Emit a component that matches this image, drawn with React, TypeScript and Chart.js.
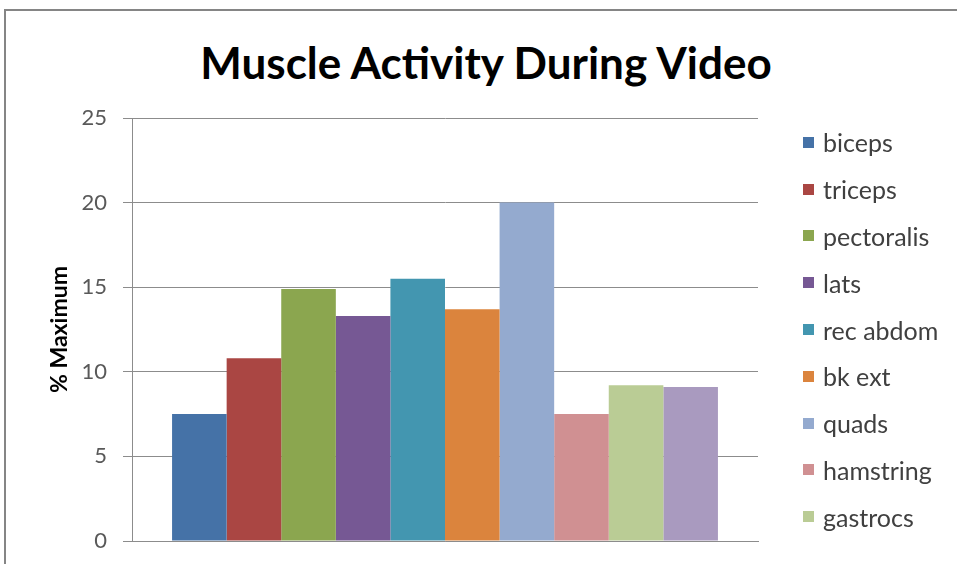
import React, { useEffect, useRef } from "react";
import { Chart, registerables } from "chart.js";

Chart.register(...registerables);

const chartTitle = "Muscle Activity During Video";
const yAxisTitle = "% Maximum";
const categories = [""];
const seriesNames = [
  "biceps",
  "triceps",
  "pectoralis",
  "lats",
  "rec abdom",
  "bk ext",
  "quads",
  "hamstring",
  "gastrocs",
  "soleus",
];
const seriesValues = [7.5, 10.8, 14.9, 13.3, 15.5, 13.7, 20.0, 7.5, 9.2, 9.1];
const seriesColors = [
  "#4572A7",
  "#AA4643",
  "#8BA64F",
  "#765894",
  "#4396B0",
  "#DB843D",
  "#94AACF",
  "#D09092",
  "#BACC95",
  "#A99ABF",
];
const yMin = 0;
const yMax = 25;
const yStep = 5;
const legendVisibleCount = 9;

export default function App() {
  const canvasRef = useRef<HTMLCanvasElement | null>(null);

  useEffect(() => {
    if (!canvasRef.current) return;
    const chart = new Chart(canvasRef.current, {
      type: "bar",
      data: {
        labels: categories,
        datasets: seriesNames.map((name, i) => ({
          label: name,
          data: [seriesValues[i]],
          backgroundColor: seriesColors[i],
          borderWidth: 0,
          categoryPercentage: 0.872,
          barPercentage: 1,
        })),
      },
      options: {
        animation: false,
        responsive: false,
        layout: { padding: { left: 8, right: 199, top: 118, bottom: 23 } },
        plugins: {
          legend: { display: false },
          tooltip: { enabled: false },
          title: { display: false },
        },
        scales: {
          x: {
            grid: { display: false, drawTicks: false },
            ticks: { display: false, padding: 0 },
            border: { display: true, color: "#8c8c8c", width: 1 },
            afterFit: (s: any) => {
              s.height = 0;
            },
          },
          y: {
            min: yMin,
            max: yMax,
            ticks: {
              stepSize: yStep,
              padding: 16,
              color: "#595959",
              font: { family: "Lato", size: 22 },
            },
            grid: { color: "#8c8c8c", tickLength: 9, lineWidth: 1 },
            border: { display: true, color: "#8c8c8c", width: 1 },
            title: {
              display: true,
              text: yAxisTitle,
              color: "#000000",
              font: { family: "Lato", size: 23, weight: "bold", lineHeight: 1.2 },
              padding: { top: 38, bottom: 0 },
            },
            afterFit: (s: any) => {
              s.width = 124;
              s.paddingTop = 0;
              s.paddingBottom = 0;
            },
          },
        },
      },
    });
    return () => chart.destroy();
  }, []);

  return (
    <div
      style={{
        position: "fixed",
        left: 0,
        top: 0,
        width: 957,
        height: 564,
        background: "#ffffff",
        overflow: "hidden",
      }}
    >
      <div
        style={{
          position: "absolute",
          left: 4,
          top: 9,
          width: 1000,
          height: 600,
          borderLeft: "2px solid #858585",
          borderTop: "2px solid #858585",
        }}
      />
      <div
        style={{
          position: "absolute",
          left: 0,
          width: 972,
          top: 34,
          textAlign: "center",
          fontFamily: "Lato",
          fontWeight: "bold",
          fontSize: 44,
          lineHeight: "56px",
          color: "#000000",
          whiteSpace: "nowrap",
        }}
      >
        {chartTitle}
      </div>
      <canvas
        ref={canvasRef}
        width={957}
        height={564}
        style={{ position: "absolute", left: 0, top: 0, width: 957, height: 564, display: "block" }}
      />
      <div
        style={{
          position: "absolute",
          left: 803,
          top: 119,
          display: "flex",
          flexDirection: "column",
          fontFamily: "Lato",
          fontSize: 25,
          color: "#404040",
        }}
      >
        {seriesNames.slice(0, legendVisibleCount).map((name, i) => (
          <div
            key={name}
            style={{ height: 46.8, display: "flex", alignItems: "center", whiteSpace: "nowrap" }}
          >
            <span
              style={{
                display: "inline-block",
                width: 11,
                height: 11,
                background: seriesColors[i],
                marginRight: 9,
              }}
            />
            <span>{name}</span>
          </div>
        ))}
      </div>
    </div>
  );
}
